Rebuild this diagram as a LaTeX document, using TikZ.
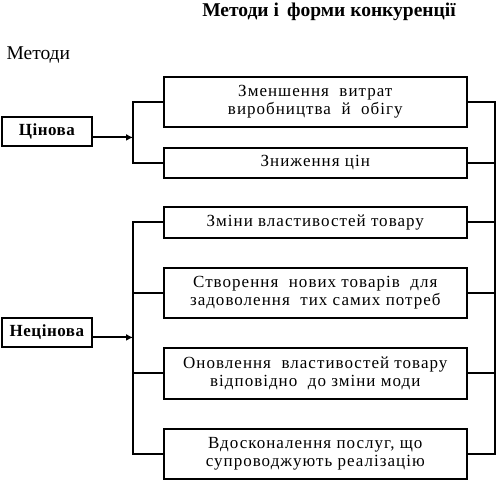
\documentclass[tikz,border=0pt]{standalone}
\usepackage{fontspec}
\setmainfont{Liberation Serif}
\newfontfamily\boxfont[LetterSpace=6]{Liberation Serif}
\newfontfamily\kindfont[LetterSpace=3]{Liberation Serif}
\usetikzlibrary{arrows.meta, positioning, calc}

\begin{document}
\begin{tikzpicture}[x=1pt, y=-1pt,
    methodbox/.style={draw, line width=1.6pt, minimum width=303pt, inner sep=0pt,
        align=center, font=\fontsize{17}{17.5}\boxfont},
    kindbox/.style={draw, line width=1.8pt, minimum width=90pt, minimum height=29pt,
        inner sep=0pt, font=\fontsize{17}{17}\kindfont\bfseries},
    bus/.style={line width=1.6pt},
    link/.style={line width=1.8pt, -{Latex[length=7pt,width=7pt]}}]
    \useasboundingbox (0,0) rectangle (499,484);

    % Titles
    \node[font=\fontsize{19.5}{21}\selectfont\bfseries] (title) at (329,12) {Методи і\, форми конкуренції};
    \node[font=\fontsize{19.5}{21}\selectfont, anchor=west] (methods) at (3,55) {Методи};

    % Boxes of methods
    \node[methodbox, minimum height=50pt, anchor=north west] (b1) at (163,76) {Зменшення\ \ витрат\\виробництва\ \ й\ \ обігу};
    \node[methodbox, minimum height=30pt, anchor=north west] (b2) at (163,147) {Зниження цін};
    \node[methodbox, minimum height=31pt, anchor=north west] (b3) at (163,206) {Зміни властивостей товару};
    \node[methodbox, minimum height=50pt, anchor=north west] (b4) at (163,267) {Створення\ \ нових товарів\ \ для\\задоволення\ \ тих самих потреб};
    \node[methodbox, minimum height=51pt, anchor=north west] (b5) at (163,347) {Оновлення\ \ властивостей товару\\відповідно\ \ до зміни моди};
    \node[methodbox, minimum height=50pt, anchor=north west] (b6) at (163,428) {Вдосконалення послуг, що\\супроводжують реалізацію};

    % Kinds
    \node[kindbox, anchor=north west] (price) at (1,116) {Цінова};
    \node[kindbox, anchor=north west] (nonprice) at (1,317) {Нецінова};

    % Buses
    \coordinate (pbus) at (133,0);
    \coordinate (rbus) at (495,0);
    \draw[bus] (b1.west) -- (b1.west -| pbus) |- (b2.west);
    \draw[bus] (b3.west) -- (b3.west -| pbus) |- (b6.west);
    \draw[bus] (b4.west) -- (b4.west -| pbus);
    \draw[bus] (b5.west) -- (b5.west -| pbus);
    \draw[bus] (b1.east) -- (b1.east -| rbus) |- (b6.east);
    \foreach \b in {b2,b3,b4,b5}
        \draw[bus] (\b.east) -- (\b.east -| rbus);

    % Arrows
    \draw[link] ([yshift=-6pt]price.east) -- ([yshift=-6pt]price.east -| pbus);
    \draw[link] ([yshift=-5pt]nonprice.east) -- ([yshift=-5pt]nonprice.east -| pbus);
\end{tikzpicture}
\end{document}
